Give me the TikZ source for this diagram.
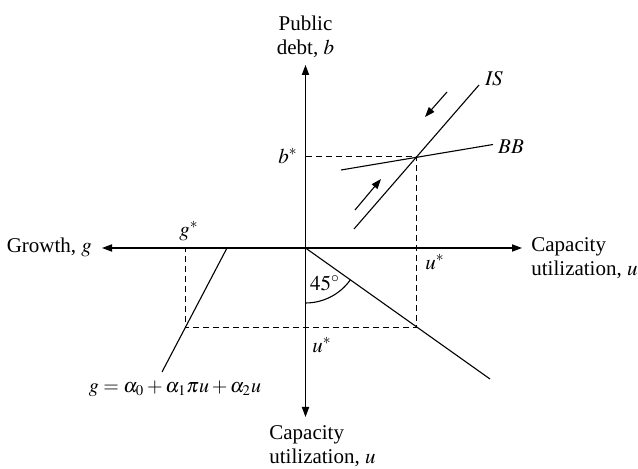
\documentclass[tikz,border=0pt]{standalone}
\usepackage{mathptmx}
\usepackage[no-math]{fontspec}
\setmainfont{Liberation Serif}
\usetikzlibrary{arrows.meta}

\begin{document}
\begin{tikzpicture}[x=0.5pt,y=-0.5pt,
		font=\fontsize{10.5}{12}\selectfont,
		axis/.style={line width=0.6pt,-{Triangle[length=5pt,width=3.6pt]}},
		curve/.style={line width=0.55pt},
		guide/.style={line width=0.5pt,dash pattern=on 3pt off 2pt},
		motion/.style={line width=0.55pt,-{Triangle[length=5pt,width=3.6pt]}}]
		\useasboundingbox (0,0) rectangle (638,469);

		% Axes
		\coordinate (O) at (305.5,248);
		\coordinate (top) at (305.5,65);
		\coordinate (bottom) at (305.5,417);
		\coordinate (left) at (102,248);
		\coordinate (right) at (522,248);
		\draw[axis] (O) -- (top);
		\draw[axis] (O) -- (bottom);
		\draw[axis] (O) -- (left);
		\draw[axis] (O) -- (right);
		\node[align=center] (debt) at (305.5,37) {Public\\debt, $b$};
		\node[anchor=east] (growth) at (99,247) {Growth, $g$};
		\node[align=left,anchor=west,inner sep=1pt] (capright) at (529,258) {Capacity\\utilization, $u$};
		\node[align=left,anchor=west,inner sep=1pt] (capbottom) at (267,446) {Capacity\\utilization, $u$};

		% IS and BB curves
		\coordinate (E) at (416.7,156.7);
		\coordinate (ISlow) at (354,229);
		\coordinate (IShigh) at (479,85);
		\coordinate (BBlow) at (341,170);
		\coordinate (BBhigh) at (493,144.5);
		\draw[curve] (ISlow) -- (IShigh);
		\draw[curve] (BBlow) -- (BBhigh);
		\node (IS) at (494,79) {$\mathit{IS}$};
		\node (BB) at (511,147) {$\mathit{BB}$};

		% Adjustment arrows
		\coordinate (up1) at (355,210);
		\coordinate (up2) at (381,179);
		\coordinate (down1) at (447,92);
		\coordinate (down2) at (425,117);
		\draw[motion] (up1) -- (up2);
		\draw[motion] (down1) -- (down2);

		% 45 degree line
		\coordinate (ray) at (490,379);
		\coordinate (F) at (416.7,328);
		\draw[curve] (O) -- (ray);
		\draw[curve] (305.5,303) arc[start angle=90,end angle=35.3,radius=55];
		\node (angle) at (325,283) {$45^\circ$};

		% Growth function
		\coordinate (gtop) at (227,248);
		\coordinate (gbot) at (162,372);
		\coordinate (G) at (185,328);
		\coordinate (gstar) at (185,248);
		\draw[curve] (gtop) -- (gbot);
		\node[font=\fontsize{10}{12}\selectfont] (eq) at (175,389) {$g=\alpha_0+\alpha_1\pi u+\alpha_2 u$};

		% Dashed guides
		\coordinate (bstar) at (305.5,156.7);
		\draw[guide] (bstar) -- (E) -- (F) -- (G) -- (gstar);
		\node (blabel) at (288,156) {$b^*$};
		\node (glabel) at (189,231) {$g^*$};
		\node (urlabel) at (435,262) {$u^*$};
		\node (ublabel) at (322,345) {$u^*$};

	\end{tikzpicture}
\end{document}
